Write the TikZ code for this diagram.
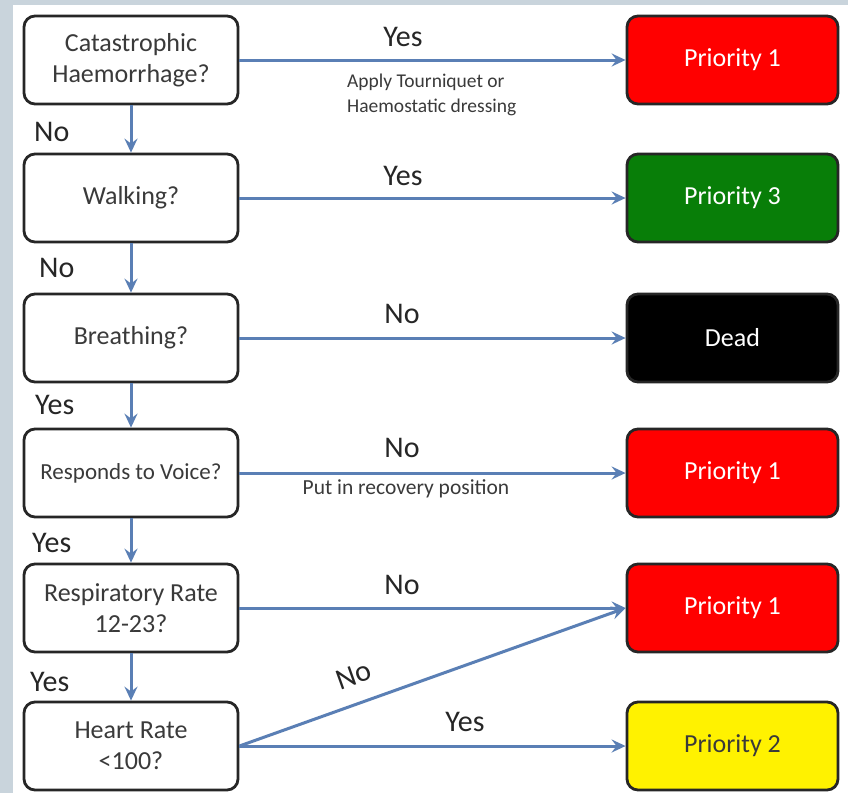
\documentclass[tikz,border=0pt]{standalone}
\usepackage{fontspec}
\setmainfont{Carlito}
\usetikzlibrary{arrows.meta}
\definecolor{bgblue}{HTML}{C9D4DC}
\definecolor{arrowblue}{HTML}{5A7FB5}
\definecolor{txtgray}{HTML}{3A3A3A}
\definecolor{pgreen}{HTML}{087E08}
\begin{document}
\begin{tikzpicture}[x=1pt,y=-1pt,
  qbox/.style={draw=black!85, line width=2.8pt, rounded corners=11pt, fill=white,
    minimum width=214pt, minimum height=88pt, inner sep=2pt, align=center,
    text=txtgray, font=\fontsize{26}{31}\selectfont},
  pbox/.style={draw=black!85, line width=2.8pt, rounded corners=11pt,
    minimum width=211pt, minimum height=88pt, inner sep=2pt, align=center,
    font=\fontsize{26}{31}\selectfont},
  flow/.style={draw=arrowblue, line width=3pt, -{Stealth[length=14pt,width=13pt,inset=5pt]}},
  lbl/.style={font=\fontsize{30}{34}\selectfont, text=black!85, inner sep=0pt},
  note/.style={font=\fontsize{19.5}{25}\selectfont, text=txtgray, inner sep=0pt, align=left}
]
\useasboundingbox (0,0) rectangle (848,793);
\fill[bgblue] (0,0) rectangle (848,793);
\fill[white] (13,5) rectangle (848,793);

% question boxes
\node[qbox] (q1) at (131,60) {Catastrophic\\Haemorrhage?};
\node[qbox] (q2) at (131,198) {Walking?};
\node[qbox] (q3) at (131,338) {Breathing?};
\node[qbox, font=\fontsize{23}{28}\selectfont] (q4) at (131,473) {Responds to Voice?};
\node[qbox] (q5) at (131,608) {Respiratory Rate\\12-23?};
\node[qbox] (q6) at (131,746) {Heart Rate\\<100?};

% outcome boxes
\node[pbox, fill=red, text=white] (p1) at (732.5,60) {Priority 1};
\node[pbox, fill=pgreen, text=white] (p2) at (732.5,198) {Priority 3};
\node[pbox, fill=black, text=white] (p3) at (732.5,338) {Dead};
\node[pbox, fill=red, text=white] (p4) at (732.5,473) {Priority 1};
\node[pbox, fill=red, text=white] (p5) at (732.5,608) {Priority 1};
\node[pbox, fill=yellow, text=txtgray] (p6) at (732.5,746) {Priority 2};

% vertical flow
\draw[flow] (q1) -- (q2);
\draw[flow] (q2) -- (q3);
\draw[flow] (q3) -- (q4);
\draw[flow] (q4) -- (q5);
\draw[flow] (q5) -- (q6);
\node[lbl, anchor=west] (v1) at (34,132) {No};
\node[lbl, anchor=west] (v2) at (39,268) {No};
\node[lbl, anchor=west] (v3) at (35,405) {Yes};
\node[lbl, anchor=west] (v4) at (32,543) {Yes};
\node[lbl, anchor=west] (v5) at (30,682) {Yes};

% horizontal flow
\draw[flow] (q1) -- (p1);
\draw[flow] (q2) -- (p2);
\draw[flow] (q3) -- (p3);
\draw[flow] (q4) -- (p4);
\draw[flow] (q5) -- (p5);
\draw[flow] (q6) -- (p6);
\draw[flow] (q6.east) -- (p5.west) node[lbl, pos=0.32, sloped, above=17pt] (dn) {No};

\node[lbl] (h1) at (403,37) {Yes};
\node[note, anchor=west] (n1) at (347,95) {Apply Tourniquet or\\Haemostatic dressing};
\node[lbl] (h2) at (403,176) {Yes};
\node[lbl] (h3) at (402,314) {No};
\node[lbl] (h4) at (402,448) {No};
\node[note, anchor=center, font=\fontsize{21.5}{25}\selectfont] (n2) at (406,489) {Put in recovery position};
\node[lbl] (h5) at (402,585) {No};
\node[lbl] (h6) at (465,722) {Yes};
\end{tikzpicture}
\end{document}
